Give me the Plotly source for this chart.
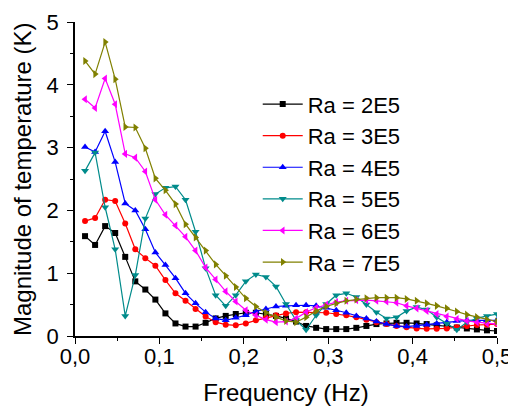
import numpy as np
import plotly.graph_objects as go

# Frequency bins (Hz): 42 bins up to 0.5 Hz
n_bins = 42
freq = [round(k * 0.5 / n_bins, 5) for k in range(1, n_bins + 1)]

ra_2e5 = [1.59, 1.45, 1.75, 1.64, 1.26, 0.87, 0.74, 0.58, 0.36, 0.20, 0.15, 0.15,
          0.21, 0.28, 0.32, 0.35, 0.37, 0.37, 0.35, 0.32, 0.28, 0.23, 0.16, 0.13,
          0.11, 0.11, 0.11, 0.13, 0.16, 0.19, 0.20, 0.21, 0.21, 0.20, 0.19, 0.17,
          0.155, 0.135, 0.12, 0.105, 0.09, 0.08]
ra_3e5 = [1.83, 1.88, 2.17, 2.15, 1.79, 1.38, 1.24, 1.12, 0.89, 0.68, 0.56, 0.43,
          0.31, 0.22, 0.18, 0.17, 0.20, 0.25, 0.29, 0.33, 0.36, 0.38, 0.38, 0.38,
          0.37, 0.35, 0.33, 0.30, 0.26, 0.22, 0.19, 0.16, 0.14, 0.12, 0.115, 0.115,
          0.12, 0.14, 0.16, 0.175, 0.18, 0.19]
ra_4e5 = [3.01, 2.93, 3.26, 2.77, 2.11, 2.00, 1.70, 1.33, 1.13, 0.92, 0.68, 0.52,
          0.38, 0.28, 0.25, 0.29, 0.33, 0.39, 0.43, 0.47, 0.48, 0.49, 0.49, 0.48,
          0.45, 0.41, 0.37, 0.32, 0.28, 0.23, 0.19, 0.16, 0.15, 0.16, 0.18, 0.20,
          0.22, 0.24, 0.25, 0.25, 0.25, 0.25]
ra_5e5 = [2.63, 2.92, 2.05, 1.38, 0.32, 0.97, 1.87, 2.26, 2.36, 2.38, 2.17, 1.66,
          1.08, 0.65, 0.48, 0.65, 0.87, 0.98, 0.94, 0.79, 0.51, 0.25, 0.10, 0.33,
          0.51, 0.65, 0.68, 0.62, 0.50, 0.38, 0.28, 0.30, 0.40, 0.46, 0.42, 0.30,
          0.20, 0.10, 0.22, 0.28, 0.32, 0.35]
ra_6e5 = [3.77, 3.63, 4.10, 3.69, 2.90, 2.84, 2.62, 2.17, 1.93, 1.76, 1.58, 1.36,
          1.09, 0.90, 0.71, 0.55, 0.41, 0.33, 0.26, 0.22, 0.23, 0.28, 0.38, 0.45,
          0.50, 0.54, 0.56, 0.57, 0.57, 0.56, 0.55, 0.53, 0.48, 0.44, 0.40, 0.35,
          0.31, 0.27, 0.24, 0.22, 0.20, 0.19]
ra_7e5 = [4.38, 4.17, 4.68, 4.09, 3.33, 3.32, 2.99, 2.51, 2.32, 2.10, 1.78, 1.57,
          1.36, 1.14, 0.96, 0.78, 0.60, 0.47, 0.37, 0.30, 0.24, 0.22, 0.30, 0.40,
          0.47, 0.52, 0.56, 0.58, 0.60, 0.61, 0.61, 0.61, 0.59, 0.56, 0.52, 0.48,
          0.44, 0.39, 0.34, 0.30, 0.26, 0.23]

series_names = ["Ra = 2E5", "Ra = 3E5", "Ra = 4E5", "Ra = 5E5", "Ra = 6E5", "Ra = 7E5"]
series_values = [ra_2e5, ra_3e5, ra_4e5, ra_5e5, ra_6e5, ra_7e5]
colors = ["#000000", "#FF0000", "#0000FF", "#008B8B", "#FF00FF", "#808000"]
symbols = ["square", "circle", "triangle-up", "triangle-down", "triangle-left", "triangle-right"]
sizes = [6, 6, 7, 7, 7, 7]

FONT = "Arial, Liberation Sans, sans-serif"

fig = go.Figure()
for name, vals, c, s, sz in zip(series_names, series_values, colors, symbols, sizes):
    fig.add_trace(go.Scatter(
        x=freq, y=vals, name=name, mode="lines+markers",
        line=dict(color=c, width=1.2),
        marker=dict(color=c, symbol=s, size=sz, line=dict(width=0)),
    ))

# page body has an 8px margin, so the figure is 8px smaller than the window
fig.update_layout(
    width=508, height=404,
    margin=dict(l=67, r=19, t=14, b=76),
    paper_bgcolor="white", plot_bgcolor="white",
    separators=",.",
    font=dict(family=FONT, size=22, color="black"),
    showlegend=True,
    legend=dict(
        x=0.433, y=0.805, xanchor="left", yanchor="top",
        bgcolor="rgba(0,0,0,0)", borderwidth=0,
        font=dict(family=FONT, size=22, color="black"),
        tracegroupgap=0, itemwidth=40,
    ),
    annotations=[dict(
        text="Magnitude of temperature (K)", textangle=-90,
        xref="paper", yref="paper", x=0, y=0.5, xanchor="center", yanchor="middle",
        xshift=-53, showarrow=False, font=dict(family=FONT, size=24, color="black"),
    )],
)
fig.update_xaxes(
    range=[0, 0.5], dtick=0.1, tickformat=".1f", automargin=False,
    showline=True, linecolor="black", linewidth=1.5, mirror=False,
    showgrid=False, zeroline=False,
    ticks="outside", ticklen=6, tickwidth=1.2, tickcolor="black",
    minor=dict(ticks="outside", dtick=0.05, ticklen=3, tickwidth=1.2, tickcolor="black", showgrid=False),
    title=dict(text="Frequency (Hz)", font=dict(size=24), standoff=16),
    tickfont=dict(size=22), ticklabelstandoff=-6,
)
fig.update_yaxes(
    range=[0, 5], dtick=1, automargin=False,
    showline=True, linecolor="black", linewidth=1.5, mirror=False,
    showgrid=False, zeroline=False,
    ticks="outside", ticklen=6, tickwidth=1.2, tickcolor="black",
    minor=dict(ticks="outside", dtick=0.5, ticklen=3, tickwidth=1.2, tickcolor="black", showgrid=False),
    tickfont=dict(size=22), ticklabelstandoff=4,
)

fig.write_html("out.html")
